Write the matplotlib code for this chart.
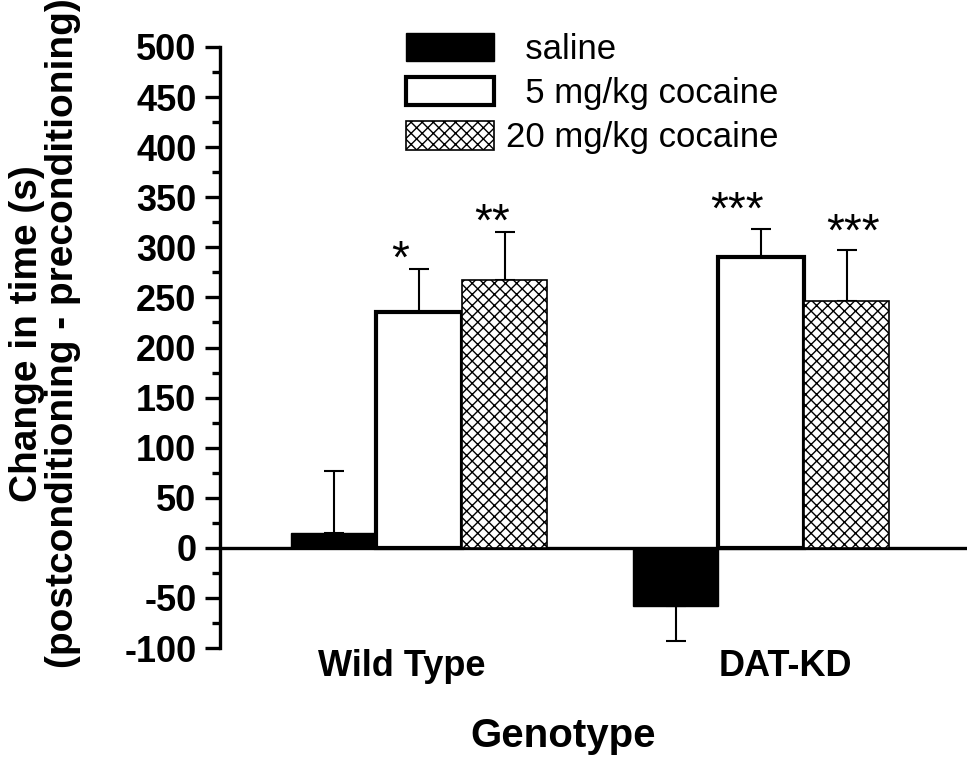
import matplotlib
matplotlib.use("Agg")
import matplotlib.pyplot as plt
from matplotlib.ticker import MultipleLocator
import numpy as np

plt.rcParams['font.family'] = ['Liberation Sans', 'DejaVu Sans']
plt.rcParams['hatch.linewidth'] = 1.0
plt.rcParams['axes.unicode_minus'] = False

genotypes = ["Wild Type", "DAT-KD"]
series = ["saline", "5 mg/kg cocaine", "20 mg/kg cocaine"]
legend_labels = ["  saline", "  5 mg/kg cocaine", "20 mg/kg cocaine"]
means = {
    "saline": [15, -58],
    "5 mg/kg cocaine": [235, 290],
    "20 mg/kg cocaine": [267, 246],
}
sems = {
    "saline": [62, 35],
    "5 mg/kg cocaine": [43, 28],
    "20 mg/kg cocaine": [48, 51],
}
# (genotype index, series index, text, x offset in bar widths, y offset)
stars = [(0, 1, "*", -0.22, -3), (0, 2, "**", -0.15, -3),
         (1, 1, "***", -0.28, 6), (1, 2, "***", 0.08, 5)]

fig = plt.figure(figsize=(9.67, 7.58), dpi=100)
ax = fig.add_axes([0.2275, 0.145, 0.7705, 0.793])

x = np.arange(len(genotypes))
w = 0.25
styles = [
    dict(facecolor="black", edgecolor="black", linewidth=1.0),
    dict(facecolor="white", edgecolor="black", linewidth=3.0),
    dict(facecolor="white", edgecolor="black", linewidth=1.2, hatch="xxx"),
]
offsets = [-w, 0, w]
handles = []
for i, s in enumerate(series):
    xs = x + offsets[i]
    m = np.array(means[s])
    e = np.array(sems[s])
    b = ax.bar(xs, m, width=w, zorder=3, **styles[i])
    handles.append(b)
    lower = np.where(m < 0, e, 0)
    upper = np.where(m >= 0, e, 0)
    ax.errorbar(xs, m, yerr=[lower, upper], fmt="none", ecolor="black",
                elinewidth=1.5, capsize=7, capthick=1.5, zorder=2)

for g, si, txt, dx, dy in stars:
    s = series[si]
    xs = x[g] + offsets[si] + dx * w
    top = means[s][g] + sems[s][g]
    ax.text(xs, top + dy, txt, ha="center", va="baseline", fontsize=33)

ax.set_ylim(-100, 500)
ax.set_xlim(-0.582, 1.596)
ax.yaxis.set_major_locator(MultipleLocator(50))
ax.yaxis.set_minor_locator(MultipleLocator(25))
ax.spines["top"].set_visible(False)
ax.spines["right"].set_visible(False)
ax.spines["bottom"].set_position(("data", 0))
ax.spines["left"].set_linewidth(2.4)
ax.spines["bottom"].set_linewidth(2.4)
ax.tick_params(axis="y", which="major", direction="out", length=11, width=2.4,
               labelsize=26, pad=6)
ax.tick_params(axis="y", which="minor", direction="out", length=6, width=2.4)
ax.tick_params(axis="x", which="both", length=0, labelbottom=False)
for lab in ax.get_yticklabels():
    lab.set_fontweight("bold")

tick_pos = [-0.05, 1.07]
for p, g in zip(tick_pos, genotypes):
    ax.text(p, -128, g, ha="center", va="baseline", fontsize=26, fontweight="bold")

fig.text(0.582, 0.0145, "Genotype", ha="center", va="baseline", fontsize=29,
         fontweight="bold")
fig.text(0.0465, 0.56, "Change in time (s)\n(postconditioning - preconditioning)",
         rotation=90, ha="center", va="center", fontsize=28, fontweight="bold",
         linespacing=1.0)

leg = ax.legend(handles, legend_labels, loc="upper left",
                bbox_to_anchor=(0.249, 1.024), frameon=False, fontsize=25,
                handlelength=2.56, handleheight=0.88, labelspacing=0.32,
                handletextpad=0.32, borderaxespad=0, borderpad=0)

fig.savefig("out.png", dpi=100)
